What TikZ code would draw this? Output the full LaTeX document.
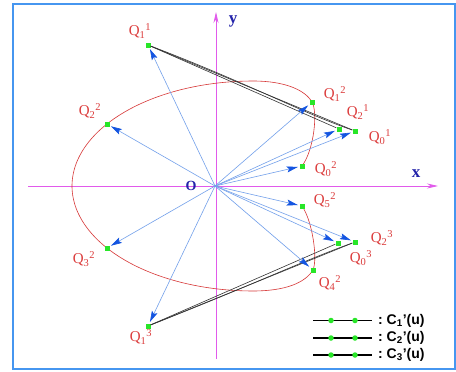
\documentclass[tikz,border=0pt]{standalone}
\usepackage{fontspec}
\setmainfont{Liberation Serif}
\setsansfont{Liberation Sans}
\usetikzlibrary{arrows.meta}
\definecolor{frameblue}{RGB}{70,150,240}
\definecolor{axismag}{RGB}{225,90,235}
\definecolor{raylight}{RGB}{115,160,235}
\definecolor{tipblue}{RGB}{20,85,225}
\definecolor{curvered}{RGB}{215,55,55}
\definecolor{ptgreen}{RGB}{40,230,40}
\definecolor{labred}{RGB}{220,60,60}
\definecolor{axlab}{RGB}{35,35,170}
\begin{document}
\begin{tikzpicture}[x=1pt,y=-1pt,
  gpt/.style={fill=ptgreen,draw=none,rectangle,minimum size=5pt,inner sep=0pt},
  ldot/.style={fill=ptgreen,draw=none,circle,minimum size=5.5pt,inner sep=0pt},
  qlab/.style={text=labred,font=\fontsize{15}{15}\selectfont,inner sep=0pt},
  axlabel/.style={text=axlab,font=\fontsize{17}{17}\selectfont\bfseries,inner sep=0pt},
  ray/.style={draw=raylight,line width=0.6pt,-{Stealth[length=11pt,width=6pt,inset=2pt,color=tipblue,fill=tipblue]},shorten >=1.5pt},
  axisline/.style={draw=axismag,line width=0.8pt,-{Stealth[length=11pt,width=5pt]}},
  cline/.style={draw=black!80,line width=0.6pt},
  legtext/.style={font=\fontsize{14}{14}\selectfont\sffamily\bfseries,anchor=west,inner sep=0pt}]
\useasboundingbox (0,0) rectangle (456,372);
\fill[white] (0,0) rectangle (456,372);
\draw[frameblue,line width=1.8pt] (13,4) rectangle (455,369);

% axes
\coordinate (O) at (215,186);
\coordinate (xs) at (28,186);
\coordinate (xe) at (438,186);
\coordinate (ys) at (216,359);
\coordinate (ye) at (216,12);
\draw[axisline] (xs) -- (xe);
\draw[axisline] (ys) -- (ye);
\node[axlabel] (xl) at (416,174) {x};
\node[axlabel] (yl) at (233,21) {y};
\node[axlabel,font=\fontsize{14}{14}\selectfont\bfseries] (ol) at (191,186) {O};

% red curve
\draw[curvered,line width=0.6pt]
  (302,166) .. controls (314,150) and (318,112) .. (312,102)
  .. controls (305,90) and (285,81) .. (253,81)
  -- plot[domain=90:270,samples=72,smooth] ({253+181*cos(\x)},{186-105*sin(\x)})
  .. controls (285,291) and (305,283) .. (313,270)
  .. controls (318,258) and (312,220) .. (302,206);

% points
\node[gpt] (q11) at (148,45) {};
\node[gpt] (q22) at (107,124) {};
\node[gpt] (q12) at (312,102) {};
\node[gpt] (q21) at (339,129) {};
\node[gpt] (q01) at (355,131) {};
\node[gpt] (q02) at (302,166) {};
\node[gpt] (q52) at (302,206) {};
\node[gpt] (q03) at (338,243) {};
\node[gpt] (q23) at (355,242) {};
\node[gpt] (q42) at (313,270) {};
\node[gpt] (q32) at (107,248) {};
\node[gpt] (q13) at (148,326) {};

% C' curves
\draw[cline] (q11) -- (q01);
\draw[cline] (q11) .. controls (250,84) and (300,112) .. (q01);
\draw[cline] (q11) -- (q21);
\draw[cline] (q13) -- (q23);
\draw[cline] (q13) .. controls (250,286) and (300,262) .. (q23);
\draw[cline] (q13) -- (q03);

% rays
\foreach \p in {q11,q22,q12,q21,q01,q02,q52,q03,q23,q42,q32,q13}
  \draw[ray] (O) -- (\p);

% labels
\node[qlab] (l11) at (140,31) {Q\textsubscript{1}\textsuperscript{1}};
\node[qlab] (l22) at (90,111) {Q\textsubscript{2}\textsuperscript{2}};
\node[qlab] (l12) at (335,94) {Q\textsubscript{1}\textsuperscript{2}};
\node[qlab] (l21) at (358,112) {Q\textsubscript{2}\textsuperscript{1}};
\node[qlab] (l01) at (380,137) {Q\textsubscript{0}\textsuperscript{1}};
\node[qlab] (l02) at (326,169) {Q\textsubscript{0}\textsuperscript{2}};
\node[qlab] (l52) at (325,200) {Q\textsubscript{5}\textsuperscript{2}};
\node[qlab] (l23) at (382,238) {Q\textsubscript{2}\textsuperscript{3}};
\node[qlab] (l03) at (361,258) {Q\textsubscript{0}\textsuperscript{3}};
\node[qlab] (l42) at (330,283) {Q\textsubscript{4}\textsuperscript{2}};
\node[qlab] (l32) at (84,259) {Q\textsubscript{3}\textsuperscript{2}};
\node[qlab] (l13) at (141,337) {Q\textsubscript{1}\textsuperscript{3}};

% legend
\foreach \i/\yy in {1/320.5,2/338,3/355}{
  \coordinate (la\i) at (313,\yy);
  \coordinate (lb\i) at (372,\yy);
  \draw[black,line width=1.2pt] (la\i) -- (lb\i);
  \node[ldot] (da\i) at (331,\yy) {};
  \node[ldot] (db\i) at (355,\yy) {};
  \node[legtext] (lt\i) at (378,\yy) {:\ C\textsubscript{\i}'(u)};
}
\end{tikzpicture}
\end{document}
